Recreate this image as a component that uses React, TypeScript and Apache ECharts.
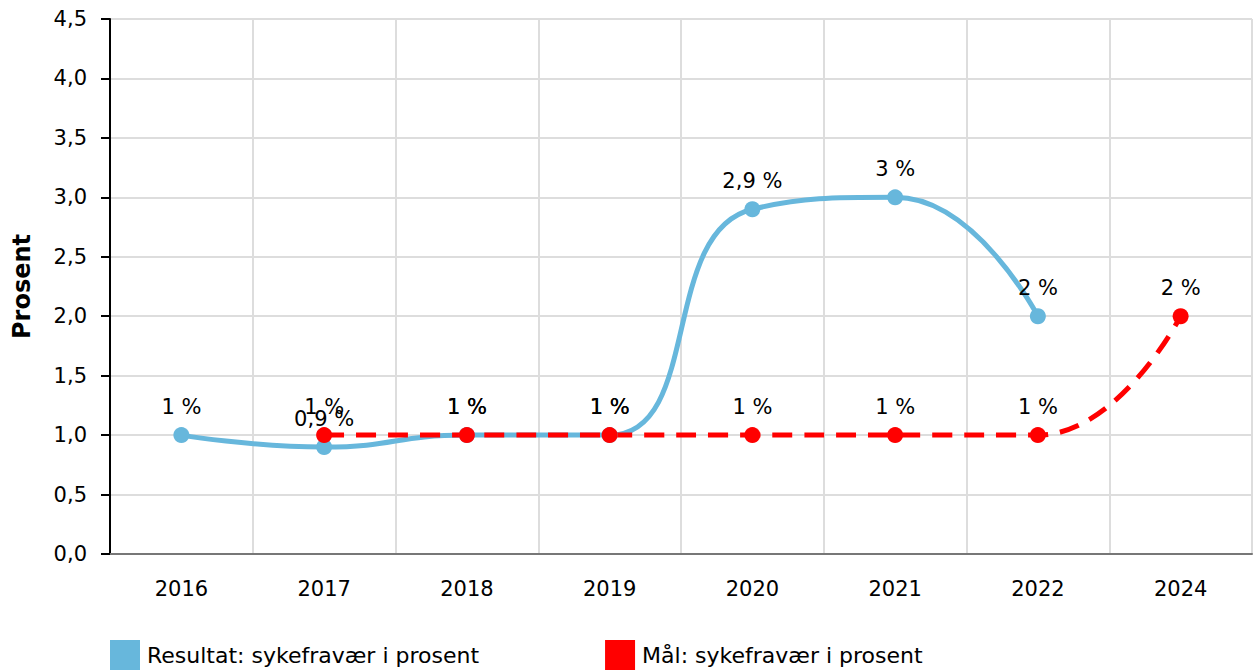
import React, { useEffect, useRef } from "react";
import * as echarts from "echarts";

const categories = ["2016", "2017", "2018", "2019", "2020", "2021", "2022", "2024"];
const resultat = [1, 0.9, 1, 1, 2.9, 3, 2, null];
const maal = [null, 1, 1, 1, 1, 1, 1, 2];
const seriesNames = ["Resultat: sykefravær i prosent", "Mål: sykefravær i prosent"];
const yAxisName = "Prosent";

const fmt = (v: number) => String(v).replace(".", ",");
const FONT = "DejaVu Sans, Verdana, sans-serif";

export default function App() {
  const ref = useRef<HTMLDivElement>(null);
  useEffect(() => {
    const chart = echarts.init(ref.current!, null, { renderer: "svg" });
    chart.setOption({
      animation: false,
      textStyle: { fontFamily: FONT },
      grid: { left: 110, right: 3, top: 19, bottom: 118, containLabel: false },
      legend: {
        left: 110,
        bottom: 2,
        padding: 0,
        itemWidth: 30,
        itemHeight: 30,
        itemGap: 126,
        icon: "rect",
        textStyle: { fontSize: 22, color: "#000", fontFamily: FONT, padding: [0, 0, 0, 2] },
        data: seriesNames,
      },
      xAxis: {
        type: "category",
        data: categories,
        boundaryGap: true,
        axisLine: { lineStyle: { color: "#777", width: 2 } },
        axisTick: { alignWithLabel: true, length: 8, lineStyle: { color: "#bbb", width: 2 } },
        axisLabel: { fontSize: 21, color: "#000", margin: 24, fontFamily: FONT },
        splitLine: { show: true, lineStyle: { color: "#ddd", width: 2 } },
      },
      yAxis: {
        type: "value",
        min: 0,
        max: 4.5,
        interval: 0.5,
        name: yAxisName,
        nameLocation: "middle",
        nameGap: 76,
        nameRotate: 90,
        nameTextStyle: { fontSize: 24, fontWeight: "bold", color: "#000", fontFamily: FONT },
        axisLine: { show: true, lineStyle: { color: "#000", width: 2 } },
        axisTick: { show: true, length: 9, lineStyle: { color: "#000", width: 2 } },
        axisLabel: {
          fontSize: 21,
          color: "#000",
          margin: 23,
          fontFamily: FONT,
          formatter: (v: number) => v.toFixed(1).replace(".", ","),
        },
        splitLine: { show: true, lineStyle: { color: "#ddd", width: 2 } },
      },
      series: [
        {
          name: seriesNames[0],
          type: "line",
          data: resultat,
          smooth: 0.5,
          symbol: "circle",
          symbolSize: 16,
          itemStyle: { color: "#67b7dc" },
          lineStyle: { color: "#67b7dc", width: 5 },
          label: {
            show: true,
            position: "top",
            distance: 10,
            fontSize: 21,
            color: "#000",
            fontFamily: FONT,
            formatter: (p: any) => fmt(p.value) + " %",
          },
        },
        {
          name: seriesNames[1],
          type: "line",
          data: maal,
          smooth: 0.5,
          symbol: "circle",
          symbolSize: 16,
          itemStyle: { color: "#ff0000" },
          lineStyle: { color: "#ff0000", width: 5, type: [20, 12] },
          label: {
            show: true,
            position: "top",
            distance: 10,
            fontSize: 21,
            color: "#000",
            fontFamily: FONT,
            formatter: (p: any) => fmt(p.value) + " %",
          },
        },
      ],
    });
    return () => chart.dispose();
  }, []);
  return <div ref={ref} style={{ width: 1255, height: 672, position: "absolute", left: 0, top: 0 }} />;
}
